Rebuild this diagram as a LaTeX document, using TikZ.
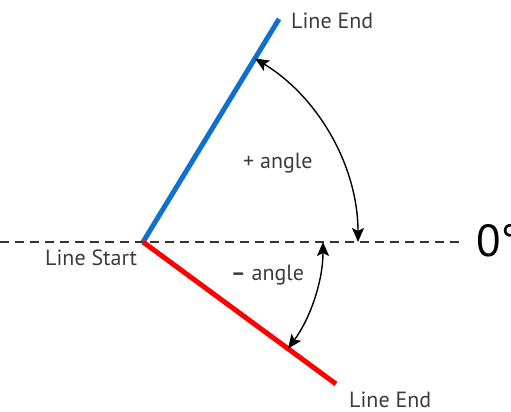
\documentclass[tikz,border=0pt]{standalone}
\usepackage{fontspec}
\setmainfont{PT Sans}
\usetikzlibrary{arrows.meta}
\definecolor{linblue}{RGB}{16,112,208}
\definecolor{txtgray}{RGB}{60,60,60}
\tikzset{
  lbl/.style={inner sep=0pt, text=txtgray, font=\fontsize{22}{22}\selectfont},
  angarrow/.style={line width=1.4pt, {Stealth[length=14pt,width=12pt,inset=3pt]}-{Stealth[length=14pt,width=12pt,inset=3pt]}},
  zeroline/.style={line width=1.3pt, dash pattern=on 9pt off 6pt, black!80},
}
\begin{document}
\begin{tikzpicture}[x=1pt,y=-1pt]
\useasboundingbox (0,0) rectangle (511,412);
\coordinate (O) at (143,242);
\coordinate (W) at (0,242);
\coordinate (E) at (462,242);
\coordinate (B) at (279,19);
\coordinate (R) at (336,384);
\draw[zeroline] (W) -- (E);
\draw[linblue, line width=5pt] (O) -- (B);
\draw[red, line width=5pt] (O) -- (R);
% arcs (y axis is flipped: negative angle = above)
\draw[angarrow] ([shift={(-58.6:215)}]O) arc (-58.6:0:215);
\draw[angarrow] ([shift={(0:180)}]O) arc (0:36.3:180);
\node[lbl, anchor=base west] (le1) at (291,29) {Line End};
\node[lbl, anchor=base west] (le2) at (349,407) {Line End};
\node[lbl, anchor=base west] (ls) at (45,265) {Line Start};
\node[lbl, anchor=base west] (pa) at (243,168) {+ angle};
\node[lbl, anchor=base west] (ma) at (231,280) {\textbf{–} angle};
\node[inner sep=0pt, anchor=base west, text=black, font=\fontsize{45}{45}\selectfont] (z) at (476,256) {0°};
\end{tikzpicture}
\end{document}
